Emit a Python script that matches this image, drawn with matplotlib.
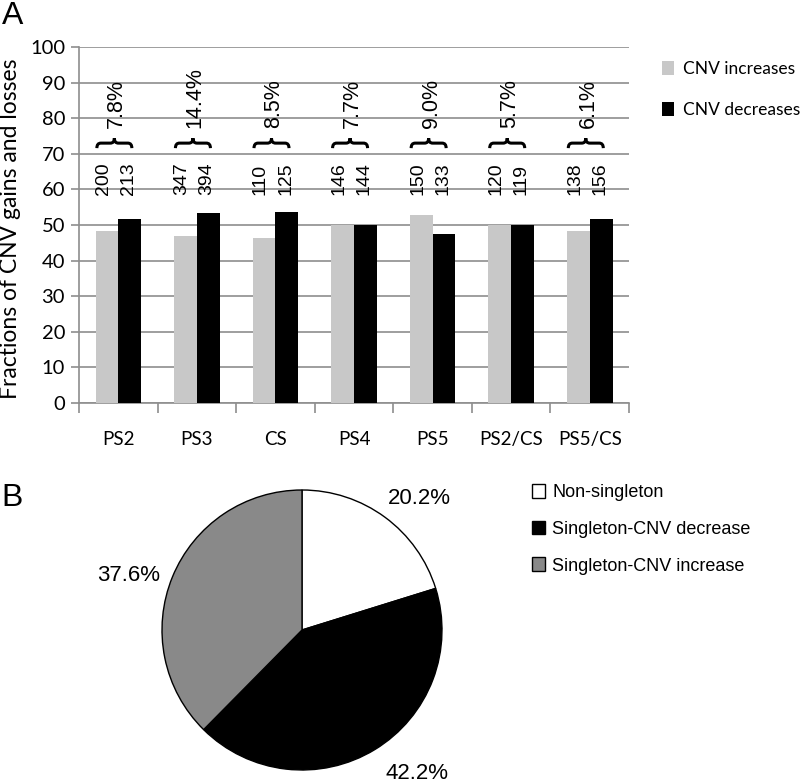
import matplotlib
matplotlib.use("Agg")
import matplotlib.pyplot as plt
import matplotlib.transforms as mtransforms
from matplotlib.path import Path
from matplotlib.patches import PathPatch
import numpy as np

# ---- data ----
categories = ["PS2", "PS3", "CS", "PS4", "PS5", "PS2/CS", "PS5/CS"]
increase_frac = [48.4, 46.9, 46.4, 49.9, 52.8, 49.9, 48.4]
decrease_frac = [51.8, 53.3, 53.7, 49.9, 47.4, 49.9, 51.8]
increase_counts = [200, 347, 110, 146, 150, 120, 138]
decrease_counts = [213, 394, 125, 144, 133, 119, 156]
pair_pct = ["7.8%", "14.4%", "8.5%", "7.7%", "9.0%", "5.7%", "6.1%"]
series_labels = ["CNV increases", "CNV decreases"]
ytick_vals = list(range(0, 101, 10))

pie_labels = ["Non-singleton", "Singleton-CNV decrease", "Singleton-CNV increase"]
pie_values = [20.2, 42.2, 37.6]

# ---- style ----
W, H = 805, 784
DPI = 100
LIGHT = "#c8c8c8"
GRID = "#8e8e8e"
SANS_A = ["Lato", "DejaVu Sans"]
ARIAL = ["Liberation Sans", "DejaVu Sans"]

fig = plt.figure(figsize=(W / DPI, H / DPI), dpi=DPI)

def px_box(l, t, r, b):
    return [l / W, 1 - b / H, (r - l) / W, (b - t) / H]

# horizontal curly brace (opening downward), in pixel units around its centre
BW, BH = 17.5, 10.0
brace_verts = [(-BW, -BH / 2), (-BW, 0), (-BW + 4, 0),
               (-4, 0),
               (0, 0), (0, BH / 2),
               (0, 0), (4, 0),
               (BW - 4, 0),
               (BW, 0), (BW, -BH / 2)]
brace_codes = [Path.MOVETO, Path.CURVE3, Path.CURVE3,
               Path.LINETO,
               Path.CURVE3, Path.CURVE3,
               Path.CURVE3, Path.CURVE3,
               Path.LINETO,
               Path.CURVE3, Path.CURVE3]
brace_path = Path(brace_verts, brace_codes)

# ================= Panel A =================
ax = fig.add_axes(px_box(79, 47, 629, 403))
x = np.arange(len(categories))
bw = 0.29
b1 = ax.bar(x - bw / 2, increase_frac, bw, color=LIGHT, label=series_labels[0], zorder=3)
b2 = ax.bar(x + bw / 2, decrease_frac, bw, color="black", label=series_labels[1], zorder=3)

ax.set_xlim(-0.5, len(categories) - 0.5)
ax.set_ylim(0, 100)
ax.set_yticks(ytick_vals)
ax.yaxis.grid(True, color=GRID, linewidth=1.2, zorder=0)
ax.set_axisbelow(True)
for s in ["top", "right"]:
    ax.spines[s].set_visible(False)
for s in ["left", "bottom"]:
    ax.spines[s].set_color(GRID)
    ax.spines[s].set_linewidth(1.2)

ax.set_xticks(np.arange(len(categories) + 1) - 0.5)
ax.set_xticklabels([])
ax.set_xticks(x, minor=True)
ax.set_xticklabels(categories, minor=True, fontsize=13.5, family=SANS_A)
ax.tick_params(axis="x", which="major", length=7, width=1.2, color=GRID)
ax.tick_params(axis="x", which="minor", length=0, pad=20)
ax.tick_params(axis="y", length=6, width=1.2, color=GRID, labelsize=14.5, pad=4)
for lab in ax.get_yticklabels():
    lab.set_family(SANS_A)

ax.set_ylabel("Fractions of CNV gains and losses", fontsize=16.5, family=SANS_A)
ax.yaxis.set_label_coords(-58 / 550, 0.49)

for i in range(len(categories)):
    ax.text(i - 0.19, 58.4, str(increase_counts[i]), rotation=90, ha="center", va="bottom",
            fontsize=14, family=ARIAL, zorder=4)
    ax.text(i + 0.13, 58.4, str(decrease_counts[i]), rotation=90, ha="center", va="bottom",
            fontsize=14, family=ARIAL, zorder=4)
    tr = mtransforms.ScaledTranslation(i - 0.05, 73.0, ax.transData)
    ax.add_patch(PathPatch(brace_path, transform=tr, fill=False, edgecolor="black",
                           linewidth=2.2, zorder=4, clip_on=False))
    ax.text(i - 0.02, 77.3, pair_pct[i], rotation=90, ha="center", va="bottom",
            fontsize=15.5, family=ARIAL, zorder=4)

ax.legend(handles=[b1, b2], loc="upper left",
          bbox_to_anchor=(662 / W, 1 - 61 / H), bbox_transform=fig.transFigure,
          frameon=False, prop={"family": SANS_A, "size": 12.5},
          handlelength=0.7, handleheight=0.85, handletextpad=0.5,
          labelspacing=1.45, borderpad=0, borderaxespad=0)

fig.text(2 / W, 1 - 16 / H, "A", fontsize=23, family=ARIAL, ha="left", va="center")

# ================= Panel B =================
R = 140
cx, cy = 302, 630
axp = fig.add_axes(px_box(cx - R, cy - R, cx + R, cy + R))
wedges, _ = axp.pie(pie_values, colors=["white", "black", "#898989"], startangle=90,
                    counterclock=False, radius=1.0,
                    wedgeprops={"edgecolor": "black", "linewidth": 1.0})
axp.set_xlim(-1, 1)
axp.set_ylim(-1, 1)
axp.set_aspect("equal")
axp.axis("off")
for w in wedges:
    w.set_clip_on(False)

label_pos = [(0.84, 0.94), (0.82, -1.025), (-1.24, 0.39)]
for v, (lx, ly) in zip(pie_values, label_pos):
    axp.text(lx, ly, f"{v:.1f}%", ha="center", va="center", fontsize=16, family=ARIAL)

axp.legend(wedges, pie_labels, loc="upper left",
           bbox_to_anchor=(532 / W, 1 - 484 / H), bbox_transform=fig.transFigure,
           frameon=False, prop={"family": ARIAL, "size": 13},
           handlelength=0.72, handleheight=0.8, handletextpad=0.4,
           labelspacing=1.08, borderpad=0, borderaxespad=0)

fig.text(1 / W, 1 - 498 / H, "B", fontsize=23, family=ARIAL, ha="left", va="center")

fig.savefig("out.png", dpi=DPI)
